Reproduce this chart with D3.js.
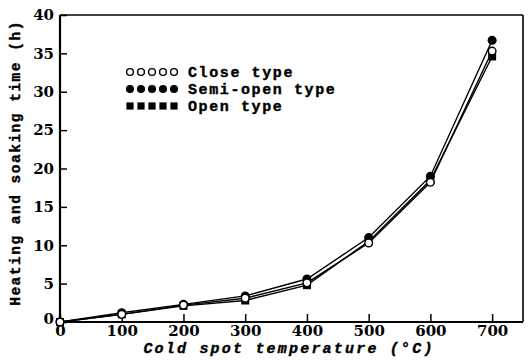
<!DOCTYPE html>
<html>
<head>
<meta charset="utf-8">
<script src="https://cdn.jsdelivr.net/npm/d3@7"></script>
<style>
  html, body { margin: 0; padding: 0; background: #fff; }
  svg { display: block; }
  .tick-label { font-family: "DejaVu Serif", serif; font-weight: bold; font-size: 15px; fill: #000; }
  .mono { font-family: "Liberation Mono", "DejaVu Sans Mono", monospace; font-weight: bold; fill: #000; stroke: #000; stroke-width: 0.4px; }
</style>
</head>
<body>
<svg id="chart" width="530" height="360"></svg>
<script>
// Cold spot temperature (°C)
const temperatures = [0, 100, 200, 300, 400, 500, 600, 700];
// Heating and soaking time (h) per furnace type
const closeType    = [0, 1.0, 2.2, 3.1, 5.1, 10.3, 18.2, 35.3];
const semiOpenType = [0, 1.2, 2.3, 3.4, 5.6, 11.0, 19.0, 36.7];
const openType     = [0, 1.0, 2.1, 2.8, 4.8, 10.5, 18.5, 34.6];
const seriesNames  = ["Close type", "Semi-open type", "Open type"];
const xTicks = [0, 100, 200, 300, 400, 500, 600, 700];
const yTicks = [0, 5, 10, 15, 20, 25, 30, 35, 40];

const series = [
  { name: seriesNames[0], values: closeType, marker: "openCircle" },
  { name: seriesNames[1], values: semiOpenType, marker: "dot" },
  { name: seriesNames[2], values: openType, marker: "square" }
];

const svg = d3.select("#chart");
const plotLeft = 60, plotRight = 523, plotTop = 15, plotBottom = 322;

const x = d3.scaleLinear().domain([0, 750]).range([plotLeft, plotRight]);
const y = d3.scaleLinear().domain([0, 40]).range([plotBottom, plotTop]);

// frame: heavy left/bottom axes, lighter top/right borders
svg.append("line").attr("x1", plotLeft).attr("x2", plotRight).attr("y1", plotTop).attr("y2", plotTop)
  .attr("stroke", "#000").attr("stroke-width", 1.6);
svg.append("line").attr("x1", plotRight).attr("x2", plotRight).attr("y1", plotTop).attr("y2", plotBottom)
  .attr("stroke", "#000").attr("stroke-width", 1.6);

// axes with inward ticks
const xAxis = svg.append("g").attr("transform", `translate(0,${plotBottom})`)
  .call(d3.axisBottom(x).tickValues(xTicks).tickSize(-8).tickPadding(3).tickSizeOuter(0));
const yAxis = svg.append("g").attr("transform", `translate(${plotLeft},0)`)
  .call(d3.axisLeft(y).tickValues(yTicks).tickSize(-7).tickPadding(6).tickSizeOuter(0));

[xAxis, yAxis].forEach(g => {
  g.select(".domain").attr("stroke", "#000").attr("stroke-width", 2.2);
  g.selectAll(".tick line").attr("stroke", "#000").attr("stroke-width", 1.5);
  g.selectAll(".tick text").attr("class", "tick-label").attr("fill", "#000");
});
// domains span the whole frame
xAxis.select(".domain").attr("d", `M${plotLeft},0H${plotRight}`);
yAxis.select(".domain").attr("d", `M0,${plotBottom}V${plotTop}`);
yAxis.selectAll(".tick").filter(d => d === 0).select("text").attr("dy", "0.1em");

// series lines
const line = d3.line().x((d, i) => x(temperatures[i])).y(d => y(d));
series.forEach(s => {
  svg.append("path").datum(s.values).attr("d", line)
    .attr("fill", "none").attr("stroke", "#000").attr("stroke-width", 1.4);
});

function drawMarker(g, type, cx, cy, scale = 1) {
  if (type === "square") {
    const h = 4 * scale;
    g.append("rect").attr("x", cx - h).attr("y", cy - h).attr("width", 2 * h).attr("height", 2 * h)
      .attr("fill", "#000");
  } else if (type === "dot") {
    g.append("circle").attr("cx", cx).attr("cy", cy).attr("r", 4.5 * scale).attr("fill", "#000");
  } else {
    g.append("circle").attr("cx", cx).attr("cy", cy).attr("r", 3.8 * scale)
      .attr("fill", "#fff").attr("stroke", "#000").attr("stroke-width", 1.4);
  }
}

// markers: squares first, then filled dots, open circles on top
const drawOrder = [series[2], series[1], series[0]];
drawOrder.forEach(s => {
  const g = svg.append("g");
  s.values.forEach((v, i) => drawMarker(g, s.marker, x(temperatures[i]), y(v)));
});

// legend
const legendRows = [72, 89, 106];
series.forEach((s, k) => {
  const g = svg.append("g");
  for (let j = 0; j < 5; j++) drawMarker(g, s.marker, 130 + j * 11, legendRows[k], 0.9);
  g.append("text").attr("class", "mono").attr("x", 188).attr("y", legendRows[k] + 5)
    .attr("font-size", 15).attr("letter-spacing", 1.6).text(s.name);
});

// axis titles
svg.append("text").attr("class", "mono")
  .attr("x", 289).attr("y", 353).attr("text-anchor", "middle")
  .attr("font-size", 15).attr("letter-spacing", 2.2).attr("font-style", "italic")
  .text("Cold spot temperature (\u00B0C)");
svg.append("text").attr("class", "mono")
  .attr("transform", "translate(20,163) rotate(-90)").attr("text-anchor", "middle")
  .attr("font-size", 14.5).attr("letter-spacing", 1.5)
  .text("Heating and soaking time (h)");
</script>
</body>
</html>
